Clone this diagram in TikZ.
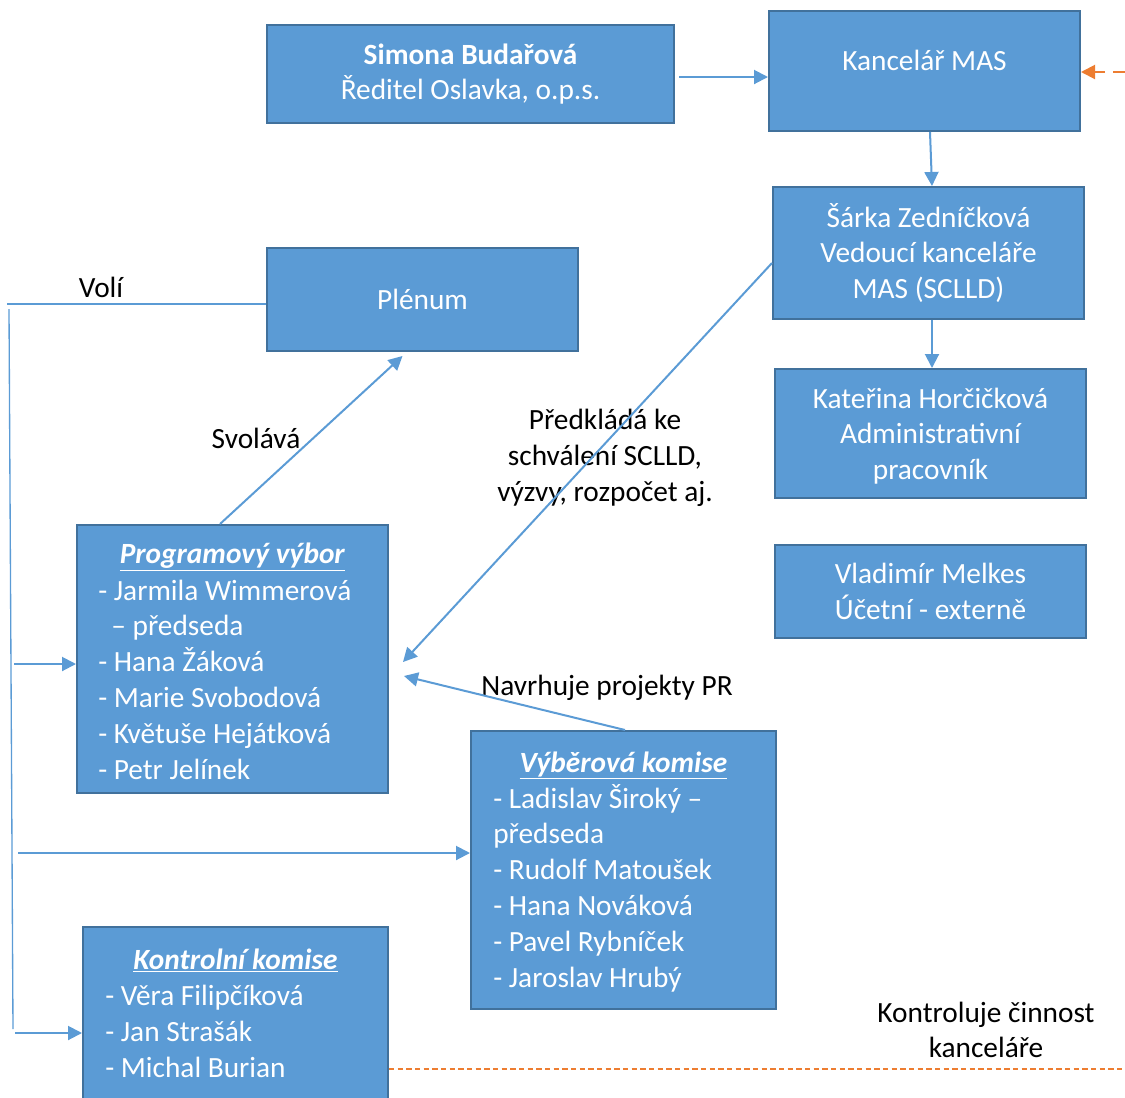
\documentclass[tikz,border=0pt]{standalone}
\usepackage{fontspec}
\setmainfont{Carlito}
\usetikzlibrary{arrows.meta,calc}
\definecolor{boxfill}{HTML}{5B9BD5}
\definecolor{boxline}{HTML}{41719C}
\definecolor{lineblue}{HTML}{5B9BD5}
\definecolor{orng}{HTML}{ED7D31}
\newcommand{\myfsz}{\fontsize{22}{26.85}\selectfont}
\newcommand{\mytitle}[1]{\underline{\textbf{\textit{#1}}}}
\begin{document}
\begin{tikzpicture}[x=0.75pt,y=-0.75pt,
  box/.style={draw=boxline,fill=boxfill,line width=1.5pt,text=white,align=center,inner sep=0pt,font=\myfsz},
  listtxt/.style={font=\myfsz,text=white,align=left,anchor=base west,inner sep=0pt},
  titletxt/.style={font=\myfsz,text=white,anchor=base,inner sep=0pt},
  boxtxt/.style={font=\myfsz,text=white,align=center,inner sep=0pt},
  lbl/.style={font=\myfsz,text=black,align=center,inner sep=0pt},
  link/.style={draw=lineblue,line width=1.5pt},
  arr/.style={link,-{Triangle[length=10.5pt,width=10.5pt]}},
  orarr/.style={draw=orng,line width=1.5pt,dash pattern=on 9pt off 6pt,-{Triangle[length=10.5pt,width=10.5pt]}},
  orline/.style={draw=orng,line width=1pt,dash pattern=on 4pt off 2.5pt}]
\useasboundingbox (0,0) rectangle (1125,1097);

% boxes
\node[box,minimum width=305.25pt,minimum height=73.5pt] (simona) at (470.5,74)
  {\textbf{Simona Budařová}\\Ředitel Oslavka, o.p.s.};
\node[box,minimum width=233.25pt,minimum height=90pt] (kancelar) at (924.5,71) {};
\node[boxtxt] (kancelart) at (924.5,60) {Kancelář MAS};
\node[box,minimum width=233.25pt,minimum height=99pt] (sarka) at (928.5,253)
  {Šárka Zedníčková\\Vedoucí kanceláře\\MAS (SCLLD)};
\node[box,minimum width=233.25pt,minimum height=96.75pt] (katerina) at (930.5,433.5) {};
\node[boxtxt] (katerinat) at (930.5,436)
  {Kateřina Horčičková\\Administrativní\\pracovník};
\node[box,minimum width=233.25pt,minimum height=69.75pt] (vladimir) at (930.5,591.5)
  {Vladimír Melkes\\Účetní - externě};
\node[box,minimum width=233.25pt,minimum height=77.25pt] (plenum) at (422.5,299.5) {Plénum};
\node[box,minimum width=233.25pt,minimum height=201pt] (prog) at (232.5,659) {};
\node[box,minimum width=228.75pt,minimum height=208.5pt] (vyb) at (623.5,870) {};
\node[box,minimum width=228.75pt,minimum height=132pt] (kont) at (235.5,1015) {};

% box contents (anchor = baseline of the last line)
\node[titletxt] (progt) at (232.5,563) {\mytitle{Programový výbor}};
\node[listtxt] (progl) at (98,779) {- Jarmila Wimmerová\\\hspace*{0.45em}– předseda\\- Hana Žáková\\- Marie Svobodová\\- Květuše Hejátková\\- Petr Jelínek};
\node[titletxt] (vybt) at (623.5,772) {\mytitle{Výběrová komise}};
\node[listtxt] (vybl) at (493,987) {- Ladislav Široký –\\předseda\\- Rudolf Matoušek\\- Hana Nováková\\- Pavel Rybníček\\- Jaroslav Hrubý};
\node[titletxt] (kontt) at (235.5,969) {\mytitle{Kontrolní komise}};
\node[listtxt] (kontl) at (105,1077) {- Věra Filipčíková\\- Jan Strašák\\- Michal Burian};

% labels
\node[lbl] (voli) at (101,287) {Volí};
\node[lbl] (svolava) at (256,438) {Svolává};
\node[lbl] (predklada) at (605,458) {Předkládá ke\\schválení SCLLD,\\výzvy, rozpočet aj.};
\node[lbl] (navrhuje) at (607,688) {Navrhuje projekty PR};
\node[lbl] (kontroluje) at (986,1030) {Kontroluje činnost\\kanceláře};

% connectors
\draw[arr] ($(simona.east)+(4,3)$) -- ($(kancelar.west)+(0,6)$);
\draw[arr] ($(kancelar.south)+(5.5,0)$) -- ($(sarka.north)+(3.5,0)$);
\draw[arr] ($(sarka.south)+(3.5,0)$) -- ($(katerina.north)+(1.5,0)$);
\draw[arr] ($(prog.north)+(-12.5,0)$) -- ($(plenum.south)+(-20,4)$);
\draw[arr] ($(sarka.west)+(0,10)$) -- ($(prog.east)+(14,3)$);
\draw[arr] ($(vyb.north)+(1.5,0)$) -- ($(prog.east)+(15,17)$);

\coordinate (votop) at (7,304);
\coordinate (vvtop) at (9,309);
\coordinate (vvbot) at (13,1029);
\coordinate (a1) at (14,664);
\coordinate (a2) at (18,853);
\coordinate (a3) at (15,1033);
\draw[link,line width=1pt] (votop) -- (plenum.west |- votop);
\draw[link,line width=1pt] (vvtop) -- (vvbot);
\draw[arr] (a1) -- (prog.west |- a1);
\draw[arr] (a2) -- (vyb.west |- a2);
\draw[arr] (a3) -- (kont.west |- a3);

\coordinate (orstart) at (1125,72);
\draw[orarr] (orstart) -- (kancelar.east |- orstart);
\coordinate (orend) at (1125,1069);
\draw[orline] (kont.east |- orend) -- (orend);
\end{tikzpicture}
\end{document}
